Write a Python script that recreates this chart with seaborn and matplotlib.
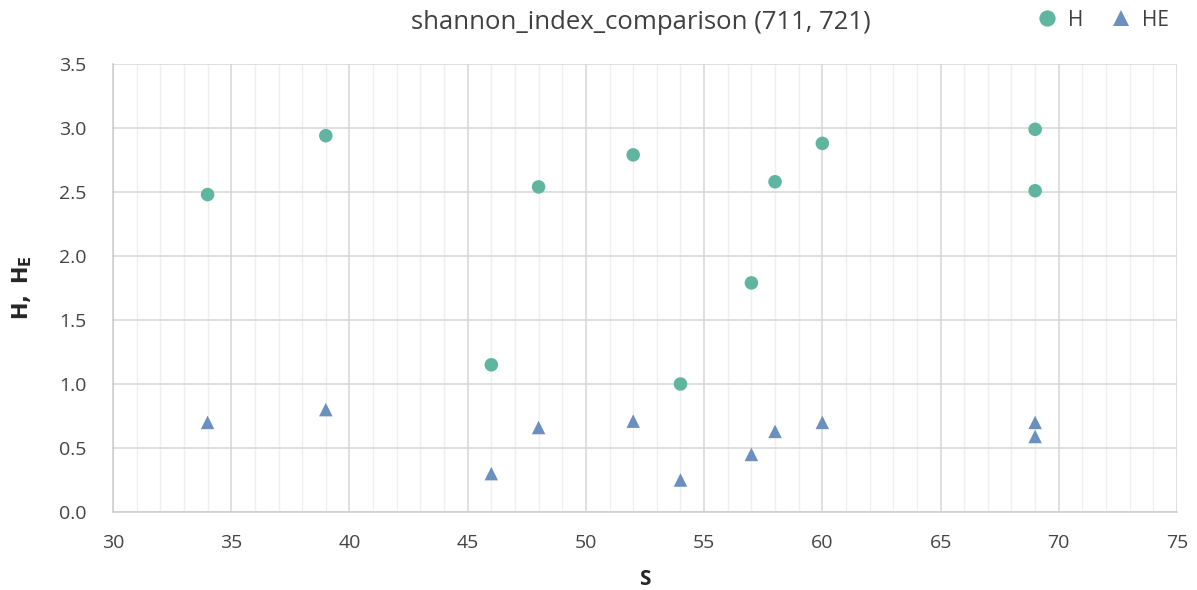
import numpy as np
import pandas as pd
import matplotlib
matplotlib.use('Agg')
import matplotlib.pyplot as plt
from matplotlib.ticker import MultipleLocator
import seaborn as sns

# данные
s_vals = [34, 39, 46, 48, 52, 54, 57, 58, 60, 69, 69]
h_vals = [2.48, 2.94, 1.15, 2.54, 2.79, 1.00, 1.79, 2.58, 2.88, 2.99, 2.51]
he_vals = [0.70, 0.80, 0.30, 0.66, 0.71, 0.25, 0.45, 0.63, 0.70, 0.70, 0.59]
series_names = ['H', 'HE']

df = pd.DataFrame({
    'S': s_vals * 2,
    'value': h_vals + he_vals,
    'series': [series_names[0]] * len(s_vals) + [series_names[1]] * len(s_vals),
})

sns.set_style('white')
plt.rcParams['font.family'] = ['Open Sans', 'DejaVu Sans']

fig = plt.figure(figsize=(11.97, 5.90), dpi=100)
ax = fig.add_axes([0.0944, 0.1322, 0.8889, 0.7593])

sns.scatterplot(data=df, x='S', y='value', hue='series', style='series',
                palette={'H': '#5fb5a0', 'HE': '#6b90bf'},
                markers={'H': 'o', 'HE': '^'}, s=95, linewidth=0, ax=ax)

ax.set_xlim(30, 75)
ax.set_ylim(0, 3.5)
ax.xaxis.set_major_locator(MultipleLocator(5))
ax.xaxis.set_minor_locator(MultipleLocator(1))
ax.yaxis.set_major_locator(MultipleLocator(0.5))
ax.yaxis.set_major_formatter(matplotlib.ticker.FormatStrFormatter('%.1f'))
ax.grid(which='major', color='#d9d9d9', linewidth=1.2)
ax.grid(which='minor', axis='x', color='#efefef', linewidth=1.0)
ax.set_axisbelow(True)
for side in ['top', 'right']:
    ax.spines[side].set_visible(False)
for side in ['left', 'bottom']:
    ax.spines[side].set_color('#cfcfcf')
    ax.spines[side].set_linewidth(1.2)
ax.tick_params(which='both', length=0, labelsize=14, colors='#444444')
ax.tick_params(axis='x', pad=16)
ax.tick_params(axis='y', pad=19)

ax.set_xlabel('S', fontsize=15, fontweight='bold', color='#262626', labelpad=12)
ax.set_ylabel(r'$\mathbf{H,\ H_E}$', fontsize=15, color='#262626', labelpad=18)
fig.text(0.535, 0.962, 'shannon_index_comparison (711, 721)', ha='center', va='center',
         fontsize=18.5, color='#404040')

ax.get_legend().remove()
handles, labels = ax.get_legend_handles_labels()
fig.legend(handles, labels, loc='center right', bbox_to_anchor=(0.992, 0.966), ncol=2,
           frameon=False, fontsize=15, handletextpad=0.0, columnspacing=0.8,
           markerscale=1.2, labelcolor='#404040')

fig.savefig('out.png', dpi=100)
